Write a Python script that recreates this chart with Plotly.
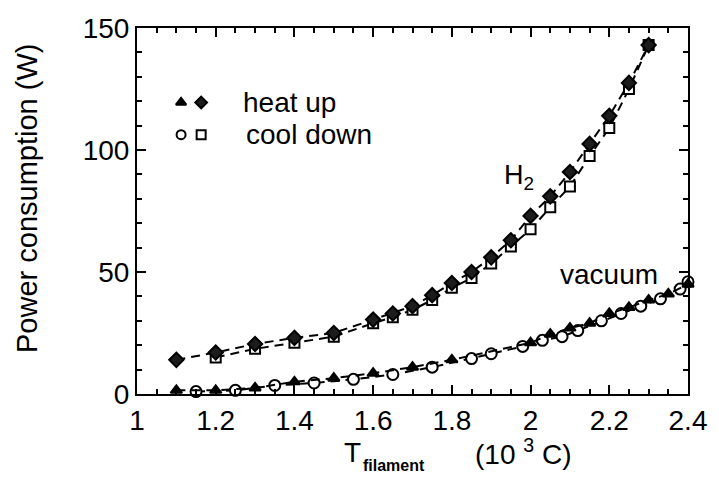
import plotly.graph_objects as go

# Filament temperature (10^3 C) and power consumption (W)
h2_heat_T = [1.1, 1.2, 1.3, 1.4, 1.5, 1.6, 1.65, 1.7, 1.75, 1.8, 1.85, 1.9, 1.95,
             2.0, 2.05, 2.1, 2.15, 2.2, 2.25, 2.3]
h2_heat_P = [14, 17, 20.5, 23, 25, 30.5, 33, 36, 40.5, 45.5, 50, 56, 63,
             73, 81, 91, 102.5, 114, 127.5, 143]

h2_cool_T = [1.2, 1.3, 1.4, 1.5, 1.6, 1.65, 1.7, 1.75, 1.8, 1.85, 1.9, 1.95,
             2.0, 2.05, 2.1, 2.15, 2.2, 2.25, 2.3]
h2_cool_P = [15, 18.5, 21, 23.5, 29, 31.5, 34.5, 38.5, 43.5, 47.5, 53.5, 60.5,
             67.5, 76.5, 85, 97.5, 109, 125, 143]

vac_heat_T = [1.1, 1.2, 1.3, 1.4, 1.5, 1.6, 1.7, 1.8, 2.0, 2.05, 2.1, 2.15,
              2.2, 2.25, 2.3, 2.35, 2.4]
vac_heat_P = [1.5, 1.5, 2.5, 5, 6.5, 8.5, 11, 14, 21, 24.5, 27, 29,
              33, 35.5, 38.5, 41, 45]

vac_cool_T = [1.15, 1.25, 1.35, 1.45, 1.55, 1.65, 1.75, 1.85, 1.9, 1.98, 2.03,
              2.08, 2.12, 2.18, 2.23, 2.28, 2.33, 2.38, 2.4]
vac_cool_P = [1, 1.5, 3.5, 4.5, 6, 8, 11, 14.5, 16.5, 19.5, 22,
              23.5, 26, 30, 33, 36, 39, 43, 46]

x_ticks = [1, 1.2, 1.4, 1.6, 1.8, 2, 2.2, 2.4]
x_tick_text = ["1", "1.2", "1.4", "1.6", "1.8", "2", "2.2", "2.4"]
y_ticks = [0, 50, 100, 150]

FONT = "Liberation Sans, Arial, Helvetica, sans-serif"
DASH = "9px,6px"

fig = go.Figure()


def series(x, y, symbol, fill, size):
    fig.add_trace(go.Scatter(
        x=x, y=y, mode="lines+markers", cliponaxis=False,
        line=dict(color="black", width=2, dash=DASH),
        marker=dict(symbol=symbol, size=size, color=fill,
                    line=dict(color="black", width=2)),
        showlegend=False, hoverinfo="skip"))


series(vac_cool_T, vac_cool_P, "circle", "white", 11)
series(vac_heat_T, vac_heat_P, "triangle-up", "black", 10)
series(h2_cool_T, h2_cool_P, "square", "white", 10)
series(h2_heat_T, h2_heat_P, "diamond", "#1c1c1c", 11)

# Legend keys (hand-placed, two symbols per row)
key_rows = [
    (["triangle-up", "diamond"], ["black", "#1c1c1c"], 119.5, "heat up", 1.263),
    (["circle", "square"], ["white", "white"], 106.3, "cool down", 1.271),
]
key_x = [1.112, 1.163]
for symbols, fills, ky, label, lx in key_rows:
    for sx, sym, fc in zip(key_x, symbols, fills):
        fig.add_trace(go.Scatter(
            x=[sx], y=[ky], mode="markers",
            marker=dict(symbol=sym, size=9, color=fc,
                        line=dict(color="black", width=2)),
            showlegend=False, hoverinfo="skip"))
    fig.add_annotation(x=lx, y=ky, xref="x", yref="y", text=label,
                       showarrow=False, xanchor="left", yanchor="middle",
                       font=dict(family=FONT, size=28, color="black"))

fig.add_annotation(x=1.927, y=89, xref="x", yref="y", text="H<sub>2</sub>",
                   showarrow=False, xanchor="left", yanchor="middle",
                   font=dict(family=FONT, size=27, color="black"))
fig.add_annotation(x=2.2, y=49, xref="x", yref="y", text="vacuum",
                   showarrow=False, xanchor="center", yanchor="middle",
                   font=dict(family=FONT, size=28, color="black"))

# Axis titles
fig.add_annotation(x=-0.2, y=0.535, xref="paper", yref="paper",
                   text="Power consumption (W)", textangle=-90,
                   showarrow=False, xanchor="center", yanchor="middle",
                   font=dict(family=FONT, size=29, color="black"))
fig.add_annotation(x=(356 - 137) / 559, y=(394 - 452) / 366, xref="paper", yref="paper",
                   text="T", showarrow=False, xanchor="center", yanchor="middle",
                   font=dict(family=FONT, size=28, color="black"))
fig.add_annotation(x=(398 - 137) / 559, y=(394 - 465) / 366, xref="paper", yref="paper",
                   text="<b>filament</b>", showarrow=False, xanchor="center", yanchor="middle",
                   font=dict(family=FONT, size=16, color="black"))
fig.add_annotation(x=(529 - 137) / 559, y=(394 - 452) / 366, xref="paper", yref="paper",
                   text="(10 <sup>3</sup> C)", showarrow=False, xanchor="center", yanchor="middle",
                   font=dict(family=FONT, size=28, color="black"))

axis_common = dict(
    showline=True, linecolor="black", linewidth=2, mirror="ticks",
    ticks="inside", ticklen=9, tickwidth=2, tickcolor="black",
    showgrid=False, zeroline=False,
    tickfont=dict(family=FONT, size=28, color="black"),
)

fig.update_xaxes(range=[1, 2.4], tickvals=x_ticks, ticktext=x_tick_text,
                 minor=dict(dtick=0.05, tick0=1, ticks="inside", ticklen=5,
                            tickwidth=1.5, tickcolor="black"),
                 **axis_common)
fig.update_yaxes(range=[0, 150], tickvals=y_ticks,
                 minor=dict(dtick=10, tick0=0, ticks="inside", ticklen=5,
                            tickwidth=1.5, tickcolor="black"),
                 **axis_common)

fig.update_layout(
    width=719, height=477,
    margin=dict(l=137, r=23, t=28, b=83),
    plot_bgcolor="white", paper_bgcolor="white",
    font=dict(family=FONT, color="black"),
)

fig.write_html("out.html")
